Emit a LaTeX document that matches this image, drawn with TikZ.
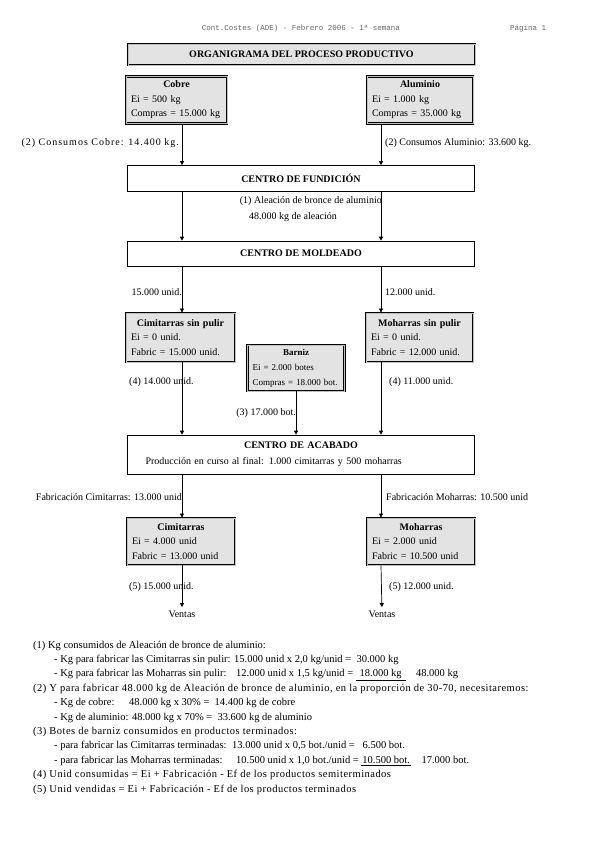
\documentclass[tikz,border=0pt]{standalone}
\usepackage{fontspec}
\setmainfont{Liberation Serif}
\setmonofont{Liberation Mono}
\newfontfamily\notafont[LetterSpace=4.5]{Liberation Serif}
\newfontfamily\anchafont[LetterSpace=10]{Liberation Serif}
\usetikzlibrary{positioning,arrows.meta}

% caja de existencias: titulo centrado y dos lineas
\newcommand{\stocktxt}[3]{\hfill\textbf{#1}\hfill\null\\#2\\#3}

\begin{document}
\begin{tikzpicture}[
  x=1pt, y=-1pt,
  >={Triangle[length=4pt,width=4pt]},
  marco/.style={draw, line width=0.8pt, double=gray!50, double distance=0.5pt, fill=gray!22},
  stock/.style={marco, text width=#1, inner xsep=5pt, inner ysep=2pt,
    minimum height=47pt, align=left, font=\fontsize{10}{14.5}\selectfont},
  centro/.style={draw, line width=0.6pt, minimum width=347pt, minimum height=25pt, font=\bfseries},
  flecha/.style={->, line width=0.7pt},
  lbl/.style={inner sep=1pt},
  nota/.style={anchor=base west, inner sep=0pt, font=\fontsize{10.5}{12}\selectfont},
  notaancha/.style={nota, font=\fontsize{10.5}{12}\notafont}
]
\useasboundingbox (0,0) rectangle (599,848);

% Cabecera de pagina
\node[font=\fontsize{7.5}{9}\ttfamily, text=gray!80!black] (cabecera) at (301,29)
  {Cont.Costes (ADE) - Febrero 2006 - 1ª semana};
\node[font=\fontsize{7.5}{9}\ttfamily, text=gray!80!black] (pagina) at (528,29) {Página 1};

% Titulo
\node[marco, minimum width=347pt, minimum height=21pt, font=\bfseries] (titulo) at (301.5,54.5)
  {ORGANIGRAMA DEL PROCESO PRODUCTIVO};

% Columnas de las flechas
\coordinate (colL) at (182,0);
\coordinate (colR) at (381,0);
\coordinate (colB) at (296,0);

% Materias primas
\node[stock=91pt] (cobre) at (176.5,100) {\stocktxt{Cobre}{Ei = 500 kg}{Compras = 15.000 kg}};
\node[stock=96pt] (aluminio) at (420,100) {\stocktxt{Aluminio}{Ei = 1.000 kg}{Compras = 35.000 kg}};

% Centros
\node[centro, minimum height=26pt] (fundicion) at (301,178.5) {CENTRO DE FUNDICIÓN};
\node[centro] (moldeado) at (301,253.5) {CENTRO DE MOLDEADO};

% Productos sin pulir y barniz
\node[stock=99pt, minimum height=49pt] (cimSP) at (180.5,337.5)
  {\stocktxt{Cimitarras sin pulir}{Ei = 0 unid.}{Fabric = 15.000 unid.}};
\node[stock=97pt, minimum height=49pt] (mohSP) at (419.5,337.5)
  {\stocktxt{Moharras sin pulir}{Ei = 0 unid.}{Fabric = 12.000 unid.}};
\node[stock=87pt, minimum height=46pt, font=\fontsize{9}{15}\selectfont] (barniz) at (296,368)
  {\stocktxt{Barniz}{Ei = 2.000 botes}{Compras = 18.000 bot.}};

% Centro de acabado
\node[centro, minimum height=39pt, text width=335pt, align=left, inner xsep=6pt, font=\normalfont] (acabado) at (301,454.5)
  {\hfill\textbf{CENTRO DE ACABADO}\hfill\null\\[4pt]
   \hspace*{12pt}Producción en curso al final: 1.000 cimitarras y 500 moharras};

% Productos terminados
\node[stock=98pt] (cim) at (181,541.5) {\stocktxt{Cimitarras}{Ei = 4.000 unid}{Fabric = 13.000 unid}};
\node[stock=98pt] (moh) at (421,541.5) {\stocktxt{Moharras}{Ei = 2.000 unid}{Fabric = 10.500 unid}};

\node (ventasL) at (182,614) {Ventas};
\node (ventasR) at (382,614) {Ventas};

% Flechas
\draw[flecha] (cobre.south -| colL) -- (fundicion.north -| colL);
\draw[flecha] (aluminio.south -| colR) -- (fundicion.north -| colR);
\draw[flecha] (fundicion.south -| colL) -- (moldeado.north -| colL);
\draw[flecha] (fundicion.south -| colR) -- (moldeado.north -| colR);
\draw[flecha] (moldeado.south -| colL) -- (cimSP.north -| colL);
\draw[flecha] (moldeado.south -| colR) -- (mohSP.north -| colR);
\draw[flecha] (cimSP.south -| colL) -- (acabado.north -| colL);
\draw[flecha] (barniz.south -| colB) -- (acabado.north -| colB);
\draw[flecha] (mohSP.south -| colR) -- (acabado.north -| colR);
\draw[flecha] (acabado.south -| colL) -- (cim.north -| colL);
\draw[flecha] (acabado.south -| colR) -- (moh.north -| colR);
\draw[flecha] (cim.south -| colL) -- (ventasL);
\draw[flecha] (moh.south -| colR) -- (ventasR);

% Etiquetas de las flechas
\node[lbl, anchor=east, font=\anchafont] (consCobre) at (180,143) {(2) Consumos Cobre: 14.400 kg.};
\node[lbl, anchor=west] (consAlum) at (384,143) {(2) Consumos Aluminio: 33.600 kg.};
\node[lbl, anchor=east] (aleacion) at (383,201) {(1) Aleación de bronce de aluminio};
\node[lbl, anchor=west] (kgAleacion) at (248,217) {48.000 kg de aleación};
\node[lbl, anchor=east] (moldL) at (183,292) {15.000 unid.};
\node[lbl, anchor=west] (moldR) at (384,292) {12.000 unid.};
\node[lbl, anchor=west] (consCim) at (128,382) {(4) 14.000 unid.};
\node[lbl, anchor=east] (consBarniz) at (297,413) {(3) 17.000 bot.};
\node[lbl, anchor=west] (consMoh) at (388,382) {(4) 11.000 unid.};
\node[lbl, anchor=east] (fabCim) at (183,497) {Fabricación Cimitarras: 13.000 unid};
\node[lbl, anchor=west] (fabMoh) at (385,497) {Fabricación Moharras: 10.500 unid};
\node[lbl, anchor=west] (vendCim) at (128,587) {(5) 15.000 unid.};
\node[lbl, anchor=west] (vendMoh) at (388,587) {(5) 12.000 unid.};

% Notas
\node[nota] (n1) at (33,648) {(1) Kg consumidos de Aleación de bronce de aluminio:};
\node[nota] (n1a) at (54,662.4) {- Kg para fabricar las Cimitarras sin pulir:};
\node[nota] (n1aC) at (234,662.4) {15.000 unid x 2,0 kg/unid = \ 30.000 kg};
\node[nota] (n1b) at (54,676.8) {- Kg para fabricar las Moharras sin pulir:};
\node[nota] (n1bC) at (236,676.8) {12.000 unid x 1,5 kg/unid =};
\node[nota, right=2pt of n1bC.base east, anchor=base west] (n1bR) {\underline{\makebox[50pt][c]{18.000 kg}}};
\node[nota, right=10pt of n1bR.base east, anchor=base west] (n1T) {48.000 kg};
\node[notaancha] (n2) at (33,691.2)
  {(2) Y para fabricar 48.000 kg de Aleación de bronce de aluminio, en la proporción de 30-70, necesitaremos:};
\node[nota] (n2a) at (54,705.6) {- Kg de cobre:};
\node[nota] (n2aC) at (129,705.6) {48.000 kg x 30\% = \ 14.400 kg de cobre};
\node[nota] (n2b) at (54,720) {- Kg de aluminio: 48.000 kg x 70\% = \ 33.600 kg de aluminio};
\node[notaancha] (n3) at (33,734.4) {(3) Botes de barniz consumidos en productos terminados:};
\node[nota] (n3a) at (54,748.8) {- para fabricar las Cimitarras terminadas:};
\node[nota] (n3aC) at (232,748.8) {13.000 unid x 0,5 bot./unid = \ \ 6.500 bot.};
\node[nota] (n3b) at (54,763.2) {- para fabricar las Moharras terminadas:};
\node[nota] (n3bC) at (236,763.2) {10.500 unid x 1,0 bot./unid =};
\node[nota, right=2pt of n3bC.base east, anchor=base west] (n3bR) {\underline{\makebox[50pt][c]{10.500 bot.}}};
\node[nota, right=10pt of n3bR.base east, anchor=base west] (n3T) {17.000 bot.};
\node[notaancha] (n4) at (33,777.6)
  {(4) Unid consumidas = Ei + Fabricación - Ef de los productos semiterminados};
\node[notaancha] (n5) at (33,792)
  {(5) Unid vendidas = Ei + Fabricación - Ef de los productos terminados};

\end{tikzpicture}
\end{document}
